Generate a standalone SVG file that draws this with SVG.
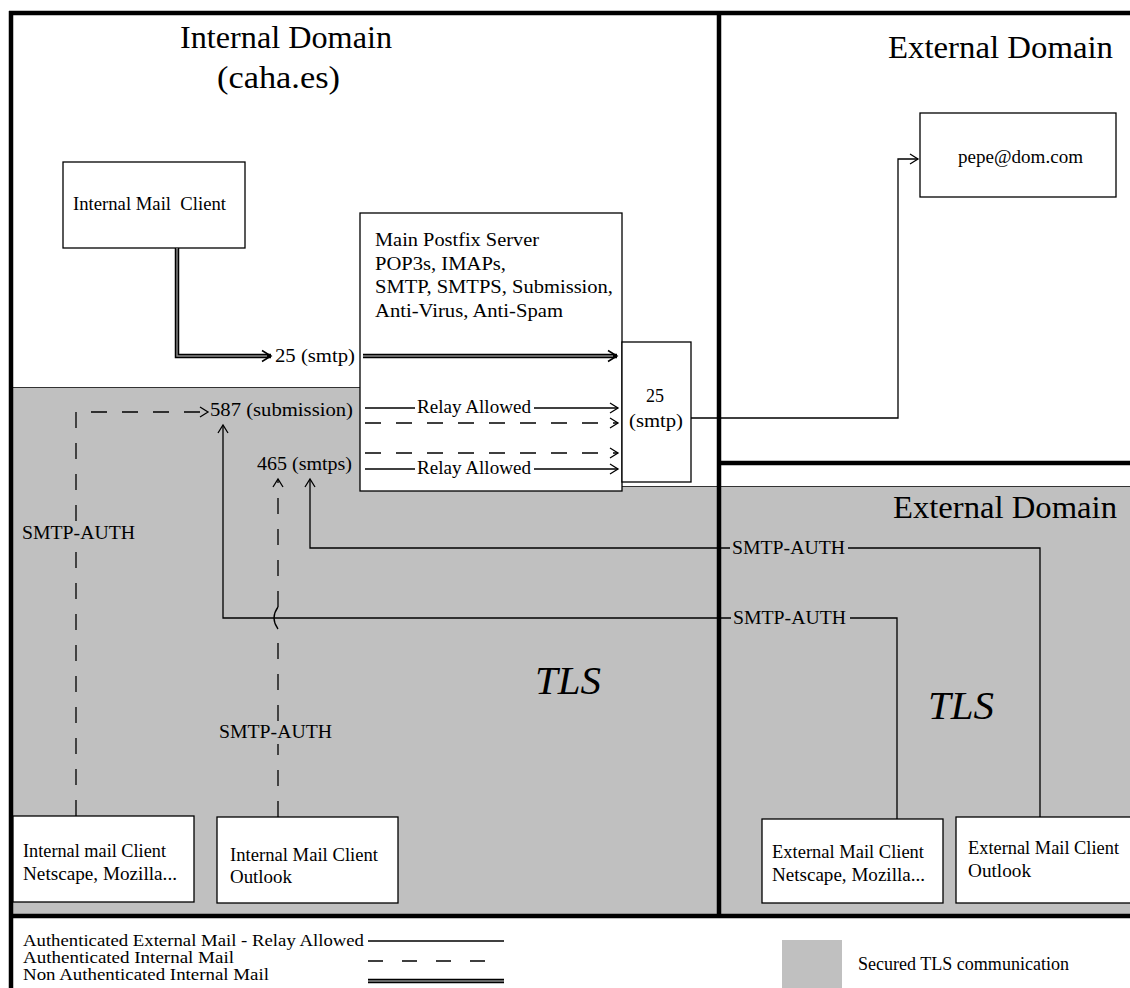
<svg xmlns="http://www.w3.org/2000/svg" width="1130" height="988" viewBox="0 0 1130 988">
<style>
.t{font-family:"Liberation Serif","Times New Roman",serif;font-size:18px;fill:#000}
.m{font-size:19px}
.lg{font-size:17px}
.title{font-size:31px}
.tls{font-size:40px;font-style:italic}
.box{fill:#fff;stroke:#000;stroke-width:1.3}
.thick{stroke:#000;stroke-width:4.5;fill:none}
.ln{stroke:#000;stroke-width:1.3;fill:none}
.dash{stroke-dasharray:16 15}
.dblo{stroke:#000;stroke-width:4.5;fill:none}
.dbli{stroke:#8a8a8a;stroke-width:1.4;fill:none}
.edge{stroke:#333;stroke-width:1;fill:none}
</style>
<defs>
<marker id="arr" viewBox="-10 -6 12 12" refX="0" refY="0" markerWidth="12" markerHeight="12" markerUnits="userSpaceOnUse" orient="auto">
<path d="M-8,-5 L0,0 L-8,5" fill="none" stroke="#000" stroke-width="1.3" stroke-dasharray="none"/>
</marker>
<marker id="arr2" viewBox="-12 -7 14 14" refX="0" refY="0" markerWidth="14" markerHeight="14" markerUnits="userSpaceOnUse" orient="auto">
<path d="M-9,-5.5 L0,0 L-9,5.5" fill="none" stroke="#000" stroke-width="1.5"/>
</marker>
</defs>

<g id="background">
<rect x="0" y="0" width="1130" height="988" fill="#fff"/>
<path d="M13,387 H360 V486 H1130 V916 H13 Z" fill="#c0c0c0"/>
<path class="edge" d="M13,387.5 H360 M360,486.5 H1130"/>
</g>

<g id="borders">
<path class="thick" d="M9,13 H1130"/>
<path class="thick" d="M11,11 V988"/>
<path class="thick" d="M719,13 V916"/>
<path class="thick" d="M719,463 H1130"/>
<path class="thick" d="M9,916 H1130"/>
</g>

<g id="titles">
<text class="t title" x="180" y="48" textLength="212" lengthAdjust="spacingAndGlyphs">Internal Domain</text>
<text class="t title" x="217" y="88" textLength="123" lengthAdjust="spacingAndGlyphs">(caha.es)</text>
<text class="t title" x="888" y="58" textLength="225" lengthAdjust="spacingAndGlyphs">External Domain</text>
<text class="t title" x="893" y="518" textLength="224" lengthAdjust="spacingAndGlyphs">External Domain</text>
<text class="t tls" x="535" y="694" textLength="66" lengthAdjust="spacingAndGlyphs">TLS</text>
<text class="t tls" x="928" y="719" textLength="66" lengthAdjust="spacingAndGlyphs">TLS</text>
</g>

<g id="node-internal-client">
<rect class="box" x="63" y="162" width="182" height="86"/>
<text class="t" x="73" y="210" style="white-space:pre" textLength="153" lengthAdjust="spacingAndGlyphs">Internal Mail  Client</text>
</g>

<g id="node-main-server">
<rect class="box" x="360" y="213" width="262" height="278"/>
<text class="t m" x="375" y="246" textLength="164" lengthAdjust="spacingAndGlyphs">Main Postfix Server</text>
<text class="t m" x="375" y="270" textLength="131" lengthAdjust="spacingAndGlyphs">POP3s, IMAPs,</text>
<text class="t m" x="375" y="293" textLength="238" lengthAdjust="spacingAndGlyphs">SMTP, SMTPS, Submission,</text>
<text class="t m" x="375" y="317" textLength="188" lengthAdjust="spacingAndGlyphs">Anti-Virus, Anti-Spam</text>
</g>

<g id="node-smtp25">
<rect class="box" x="622" y="342" width="69" height="140"/>
<text class="t" x="655" y="402" text-anchor="middle">25</text>
<text class="t" x="629" y="427" textLength="54" lengthAdjust="spacingAndGlyphs">(smtp)</text>
</g>

<g id="node-pepe">
<rect class="box" x="920" y="113" width="196" height="84"/>
<text class="t" x="958" y="163" textLength="125" lengthAdjust="spacingAndGlyphs">pepe@dom.com</text>
</g>

<g id="node-int-netscape">
<rect class="box" x="13" y="816" width="181" height="86"/>
<text class="t" x="23" y="857" textLength="143" lengthAdjust="spacingAndGlyphs">Internal mail Client</text>
<text class="t" x="23" y="880" textLength="154" lengthAdjust="spacingAndGlyphs">Netscape, Mozilla...</text>
</g>

<g id="node-int-outlook">
<rect class="box" x="217" y="817" width="181" height="86"/>
<text class="t" x="230" y="861" textLength="148" lengthAdjust="spacingAndGlyphs">Internal Mail Client</text>
<text class="t" x="230" y="883" textLength="62" lengthAdjust="spacingAndGlyphs">Outlook</text>
</g>

<g id="node-ext-netscape">
<rect class="box" x="762" y="819" width="181" height="84"/>
<text class="t" x="772" y="858" textLength="152" lengthAdjust="spacingAndGlyphs">External Mail Client</text>
<text class="t" x="772" y="881" textLength="153" lengthAdjust="spacingAndGlyphs">Netscape, Mozilla...</text>
</g>

<g id="node-ext-outlook">
<rect class="box" x="956" y="817" width="185" height="86"/>
<text class="t" x="968" y="854" textLength="151" lengthAdjust="spacingAndGlyphs">External Mail Client</text>
<text class="t" x="968" y="877" textLength="63" lengthAdjust="spacingAndGlyphs">Outlook</text>
</g>

<g id="connectors">
<path class="dblo" d="M177,248 V356 H271" marker-end="url(#arr2)"/>
<path class="dbli" d="M177,248 V356 H267"/>
<text class="t" x="275" y="362" textLength="80" lengthAdjust="spacingAndGlyphs">25 (smtp)</text>
<path class="dblo" d="M363,356 H617" marker-end="url(#arr2)"/>
<path class="dbli" d="M363,356 H613"/>

<path class="ln" d="M365,408 H415"/>
<text class="t" x="417" y="413" textLength="114" lengthAdjust="spacingAndGlyphs">Relay Allowed</text>
<path class="ln" d="M534,408 H618" marker-end="url(#arr)"/>
<path class="ln dash" d="M365,423 H618" marker-end="url(#arr)"/>
<path class="ln dash" d="M365,453 H618" marker-end="url(#arr)"/>
<path class="ln" d="M365,469 H415"/>
<text class="t" x="417" y="474" textLength="114" lengthAdjust="spacingAndGlyphs">Relay Allowed</text>
<path class="ln" d="M534,469 H618" marker-end="url(#arr)"/>

<path class="ln" d="M691,418 H898 V159 H918" marker-end="url(#arr)"/>

<path class="ln dash" d="M76,816 V547"/>
<text class="t" x="22" y="539" textLength="113" lengthAdjust="spacingAndGlyphs">SMTP-AUTH</text>
<path class="ln dash" d="M76,521 V412 H208" marker-end="url(#arr)"/>
<text class="t" x="210" y="416" textLength="143" lengthAdjust="spacingAndGlyphs">587 (submission)</text>

<path class="ln dash" d="M278,817 V744"/>
<text class="t" x="219" y="738" textLength="113" lengthAdjust="spacingAndGlyphs">SMTP-AUTH</text>
<path class="ln dash" d="M278,721 V629"/>
<path class="ln" d="M278,629 Q270,618 278,607"/>
<path class="ln dash" d="M278,607 V479" marker-end="url(#arr)"/>
<text class="t" x="257" y="470" textLength="95" lengthAdjust="spacingAndGlyphs">465 (smtps)</text>

<path class="ln" d="M897,819 V618 H850"/>
<text class="t" x="733" y="624" textLength="113" lengthAdjust="spacingAndGlyphs">SMTP-AUTH</text>
<path class="ln" d="M731,618 H223 V425" marker-end="url(#arr)"/>

<path class="ln" d="M1040,817 V548 H848"/>
<text class="t" x="732" y="554" textLength="113" lengthAdjust="spacingAndGlyphs">SMTP-AUTH</text>
<path class="ln" d="M730,548 H310 V479" marker-end="url(#arr)"/>
</g>

<g id="legend">
<text class="t lg" x="23" y="946" textLength="341" lengthAdjust="spacingAndGlyphs">Authenticated External Mail - Relay Allowed</text>
<text class="t lg" x="23" y="963" textLength="211" lengthAdjust="spacingAndGlyphs">Authenticated Internal Mail</text>
<text class="t lg" x="23" y="980" textLength="246" lengthAdjust="spacingAndGlyphs">Non Authenticated Internal Mail</text>
<path class="ln" d="M368,941 H504"/>
<path class="ln" d="M368,961 H504" stroke-dasharray="15 19"/>
<path class="dblo" d="M368,981 H504"/>
<path class="dbli" d="M368,981 H504"/>
<rect x="782" y="940" width="60" height="48" fill="#c0c0c0"/>
<text class="t" x="858" y="970" textLength="211" lengthAdjust="spacingAndGlyphs">Secured TLS communication</text>
</g>
</svg>
